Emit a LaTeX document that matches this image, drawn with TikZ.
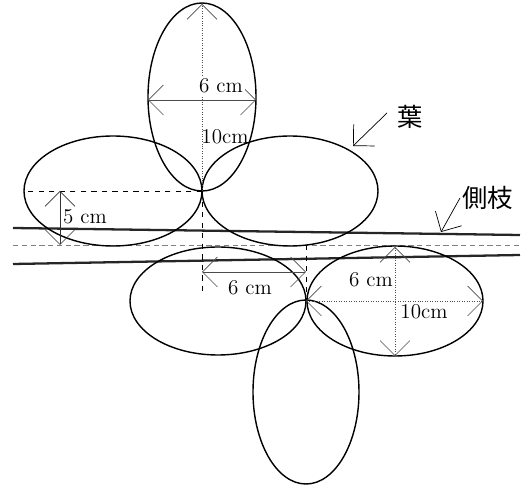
\documentclass[tikz,border=0pt]{standalone}
\usepackage{fontspec}
\newfontfamily\jpfont{Noto Sans CJK JP}
\usetikzlibrary{arrows.meta}

\begin{document}
\begin{tikzpicture}[x=0.02cm, y=-0.02cm, every node/.style={font=\large}]
  \useasboundingbox (0,0) rectangle (522,486);
  \coordinate (J1) at (202,191);
  \coordinate (J2) at (306,301);
  \draw[line width=1.3pt, black!85] (13,228) -- (520,235);
  \draw[line width=1.3pt, black!85] (13,264) -- (520,255);
  \draw[densely dashed, gray] (13,245) -- (520,245);
  \draw[thick] (202,97) ellipse [x radius=54, y radius=94];
  \draw[thick] (113,191) ellipse [x radius=89, y radius=55];
  \draw[thick] (290,191) ellipse [x radius=88, y radius=55];
  \draw[thick] (218,301) ellipse [x radius=88, y radius=54];
  \draw[thick] (395,301) ellipse [x radius=88, y radius=55];
  \draw[thick] (306,392) ellipse [x radius=53, y radius=92];
  \draw[dashed] (J1) -- (27,191);
  \draw[dashed] (J1) -- (202,293);
  \draw[dashed] (306,245) -- (J2);
  \draw[-{Straight Barb[length=3mm]}, densely dotted, black!70] (J1) -- (202,4);
  \draw[{Straight Barb[length=3mm]}-{Straight Barb[length=3mm]}, black!70] (148,100) -- (256,100);
  \draw[{Straight Barb[length=3mm]}-{Straight Barb[length=3mm]}, black!80] (60,191) -- (60,245);
  \draw[{Straight Barb[length=3mm]}-{Straight Barb[length=3mm]}, black!70] (202,272) -- (306,272);
  \draw[{Straight Barb[length=3mm]}-{Straight Barb[length=3mm]}, densely dotted, black!70] (395,247) -- (395,356);
  \draw[{Straight Barb[length=3mm]}-{Straight Barb[length=3mm]}, densely dotted, black!70] (J2) -- (483,301);
  \node[fill=white, inner sep=1pt] (w1) at (221,86) {6 cm};
  \node (l1) at (225,137) {10cm};
  \node (w2) at (85,217) {5 cm};
  \node (w3) at (250,288) {6 cm};
  \node (w4) at (371,280) {6 cm};
  \node (l2) at (424,312) {10cm};
  \node[font=\jpfont\Large] (ha) at (410,117) {葉};
  \node[font=\jpfont\Large] (eda) at (488,198) {側枝};
  \draw[-{Straight Barb[length=3mm]}] (387,113) -- (353,146);
  \draw[-{Straight Barb[length=3mm]}] (460,198) -- (441,232);
\end{tikzpicture}
\end{document}
